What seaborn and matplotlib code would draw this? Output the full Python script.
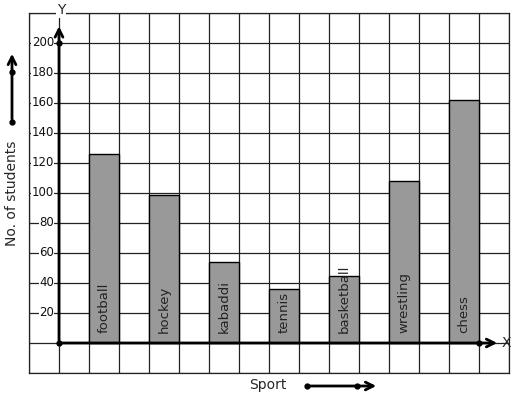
import numpy as np
import matplotlib
matplotlib.use("Agg")
import matplotlib.pyplot as plt
import seaborn as sns

# Data
sports = ["football", "hockey", "kabaddi", "tennis", "basketball", "wrestling", "chess"]
students = [126, 99, 54, 36, 45, 108, 162]
y_ticks = [20, 40, 60, 80, 100, 120, 140, 160, 180, 200]

sns.set_style("white")
plt.rcParams["font.family"] = ["DejaVu Sans"]

W, H = 517, 399
fig = plt.figure(figsize=(W / 100, H / 100), dpi=100)
ax = fig.add_axes([29 / W, 26 / H, 480 / W, 360 / H])

# one bar per sport, one empty cell between bars
pos = np.arange(len(sports)) * 2 + 1.5
sns.barplot(x=pos, y=students, native_scale=True, width=0.5, color="#999999",
            saturation=1, edgecolor="black", linewidth=1, ax=ax, zorder=3)

ax.set_xlim(-1, 15)
ax.set_ylim(-20, 220)
ax.set_xticks(np.arange(-1, 16))
ax.set_yticks(np.arange(-20, 221, 20))
ax.grid(True, color="#222222", linewidth=0.9)
ax.set_axisbelow(True)
ax.tick_params(length=0, labelbottom=False, labelleft=False)
ax.set_xlabel("")
ax.set_ylabel("")
for s in ax.spines.values():
    s.set_color("#222222")
    s.set_linewidth(0.9)

# axes with arrows
ax.annotate("", xy=(0, 213), xytext=(0, 0),
            arrowprops=dict(arrowstyle="->", lw=2, color="black", mutation_scale=14), zorder=5)
ax.annotate("", xy=(14.7, 0), xytext=(0, 0),
            arrowprops=dict(arrowstyle="->", lw=2, color="black", mutation_scale=14), zorder=5)
ax.plot([0, 0, 14], [0, 200, 0], "o", color="black", ms=3.5, zorder=6, clip_on=False)
ax.text(0.07, 222, "Y", ha="center", va="center", fontsize=10,
        bbox=dict(facecolor="white", edgecolor="none", pad=0.5), clip_on=False)
ax.text(14.92, 0, "X", ha="center", va="center", fontsize=10, zorder=6)

# tick labels between the frame and the y axis
for v in y_ticks:
    ax.text(-0.17, v, str(v), ha="right", va="center", fontsize=8.5, color="#111111",
            bbox=dict(facecolor="white", edgecolor="none", pad=0.3), zorder=4)

# names written up inside the bars
for p, name in zip(pos, sports):
    ax.text(p, 6.7, name, rotation=90, ha="center", va="bottom", fontsize=9.5,
            color="#222222", zorder=4)

# axis titles with arrows outside the frame
fig.text(12 / W, (H - 193) / H, "No. of students", rotation=90, ha="center", va="center",
         fontsize=10)
fig.text(268 / W, (H - 385) / H, "Sport", ha="center", va="center", fontsize=10)
fig.patches.append(matplotlib.patches.FancyArrowPatch(
    (12 / W, (H - 122) / H), (12 / W, (H - 51) / H), transform=fig.transFigure,
    arrowstyle="->", lw=2, color="black", mutation_scale=14, figure=fig))
fig.patches.append(matplotlib.patches.FancyArrowPatch(
    (307 / W, (H - 386) / H), (379 / W, (H - 386) / H), transform=fig.transFigure,
    arrowstyle="->", lw=2, color="black", mutation_scale=14, figure=fig))
fig.lines.append(matplotlib.lines.Line2D(
    [12 / W, 12 / W, 307 / W, 357 / W],
    [(H - 122) / H, (H - 72) / H, (H - 386) / H, (H - 386) / H],
    transform=fig.transFigure, linestyle="none", marker="o", ms=3.5, color="black", figure=fig))

fig.savefig("out.png", dpi=100)
